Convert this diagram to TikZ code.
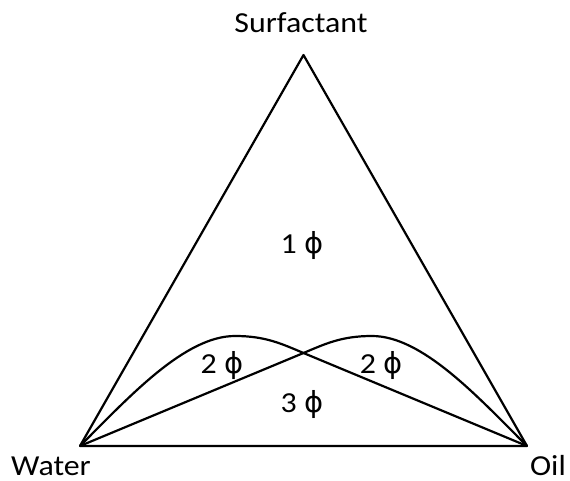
\documentclass[tikz,border=0pt]{standalone}
\usepackage{fontspec}
\setmainfont{Carlito}[FakeStretch=1.1]
\newfontfamily\phifont{DejaVu Sans}
\newcommand{\phisym}{{\phifont\fontsize{29}{32}\selectfont ϕ}}
\begin{document}
\begin{tikzpicture}[x=1pt,y=-1pt,
  edge/.style={line width=2.2pt, line join=round},
  lbl/.style={font=\fontsize{29}{32}\selectfont, inner sep=0pt, anchor=base}]
\useasboundingbox (0,0) rectangle (570,481);
\coordinate (W) at (80,446);
\coordinate (O) at (527,446);
\coordinate (S) at (303.5,55);
\coordinate (X) at (303.5,353);
\draw[edge] (W) -- (S) -- (O) -- cycle;
% left lobe curve then line to oil
\draw[edge] (W) .. controls (130,396) and (185,336) .. (235,336)
  .. controls (265,336) and (281,343.5) .. (X) -- (O);
% right lobe
\draw[edge] (W) -- (X) .. controls (326,343.5) and (342,336) .. (372,336)
  .. controls (422,336) and (477,396) .. (O);
\node[lbl] (ls) at (301,33) {Surfactant};
\node[lbl] (lw) at (51,475) {Water};
\node[lbl] (lo) at (548,475) {Oil};
\node[lbl] (l1) at (302,253) {1 \phisym};
\node[lbl] (l2a) at (222,373) {2 \phisym};
\node[lbl] (l2b) at (381,373) {2 \phisym};
\node[lbl] (l3) at (302,412) {3 \phisym};
\end{tikzpicture}
\end{document}
